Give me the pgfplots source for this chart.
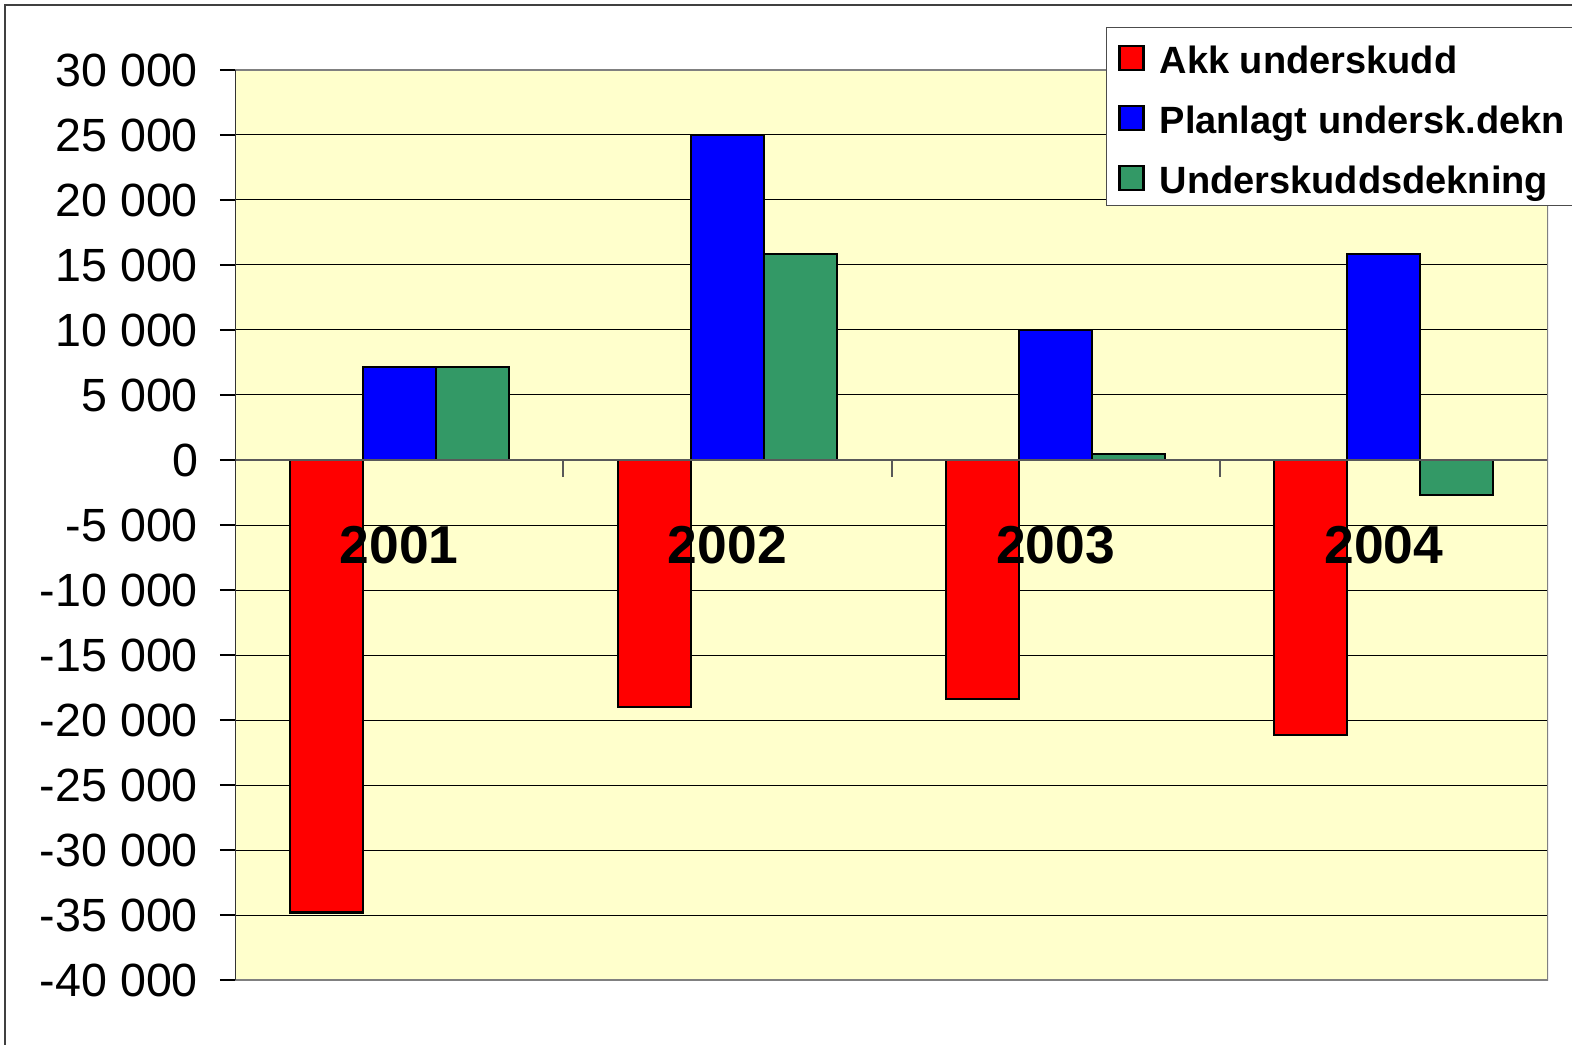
\documentclass[border=0pt]{standalone}
\usepackage{pgfplots}
\pgfplotsset{compat=1.18}
\usepackage{fontspec}
\setmainfont{Liberation Sans}
\definecolor{bgyellow}{HTML}{FFFFCC}
\definecolor{sred}{HTML}{FF0000}
\definecolor{sblue}{HTML}{0000FF}
\definecolor{sgreen}{HTML}{339966}
\pgfplotsset{sqlegend/.style={legend image code/.code={\draw[##1,draw=black,line width=1.1pt] (0pt,-7pt) rectangle (12pt,5pt);}}}
\begin{document}
\begin{tikzpicture}
\useasboundingbox (0,0) rectangle (786pt,522pt);
\draw[line width=1pt, black!75] (2.5pt,-5pt) -- (2.5pt,519.5pt) -- (800pt,519.5pt);
\begin{axis}[
  at={(117.5pt,32pt)}, anchor=south west,
  scale only axis, width=656.5pt, height=455pt,
  xmin=-0.5, xmax=3.5, ymin=-40000, ymax=30000,
  ybar=0pt, bar width=36.5pt,
  axis background/.style={fill=bgyellow},
  axis line style={draw=none},
  scaled y ticks=false,
  ytick={-40000,-35000,...,30000},
  yticklabels={-40 000,-35 000,-30 000,-25 000,-20 000,-15 000,-10 000,-5 000,0,5 000,10 000,15 000,20 000,25 000,30 000},
  yticklabel style={font=\fontsize{23.3}{27}\selectfont, xshift=-7.5pt},
  ymajorgrids, major grid style={black, line width=0.5pt},
  ytick pos=left, ytick align=outside, major tick length=7.5pt,
  ytick style={black, line width=0.6pt},
  xtick=\empty,
  legend style={at={(rel axis cs:0.6634,1.0473)}, anchor=north west, draw=black!70, fill=white,
    font=\bfseries\fontsize{19}{22}\selectfont, inner xsep=6pt, inner ysep=5.5pt, row sep=12pt,
    nodes={inner sep=0pt, text height=17.5pt, text depth=0.5pt},
    /tikz/every odd column/.append style={column sep=7.5pt}},
  legend cell align=left,
]
\addplot[fill=sred, draw=black, line width=1.1pt, sqlegend] coordinates {(0,-34800) (1,-19000) (2,-18400) (3,-21150)};
\addplot[fill=sblue, draw=black, line width=1.1pt, sqlegend] coordinates {(0,7150) (1,25000) (2,10000) (3,15850)};
\addplot[fill=sgreen, draw=black, line width=1.1pt, sqlegend] coordinates {(0,7150) (1,15850) (2,450) (3,-2700)};
\legend{Akk underskudd, Planlagt undersk.dekn, Underskuddsdekning}
\draw[black!65, line width=1pt] (axis cs:-0.5,0) -- (axis cs:3.5,0);
\draw[black!65, line width=1pt] (axis cs:0.5,0) -- (axis cs:0.5,-1300);
\draw[black!65, line width=1pt] (axis cs:1.5,0) -- (axis cs:1.5,-1300);
\draw[black!65, line width=1pt] (axis cs:2.5,0) -- (axis cs:2.5,-1300);
\draw[black!50, line width=1.5pt] (rel axis cs:0,1) -- (rel axis cs:1,1) -- (rel axis cs:1,0) -- (rel axis cs:0,0);
\draw[black!80, line width=1pt] (rel axis cs:0,0) -- (rel axis cs:0,1);
\end{axis}
\begin{axis}[
  at={(117.5pt,32pt)}, anchor=south west,
  scale only axis, width=656.5pt, height=455pt,
  xmin=-0.5, xmax=3.5, ymin=-40000, ymax=30000,
  axis line style={draw=none}, ytick=\empty,
  xtick={0,1,2,3}, xticklabels={2001,2002,2003,2004},
  xtick pos=bottom, xtick style={draw=none}, major tick length=0pt,
  xticklabel style={font=\bfseries\fontsize{26.7}{30}\selectfont, anchor=center, yshift=217.5pt},
]
\end{axis}
\end{tikzpicture}
\end{document}
